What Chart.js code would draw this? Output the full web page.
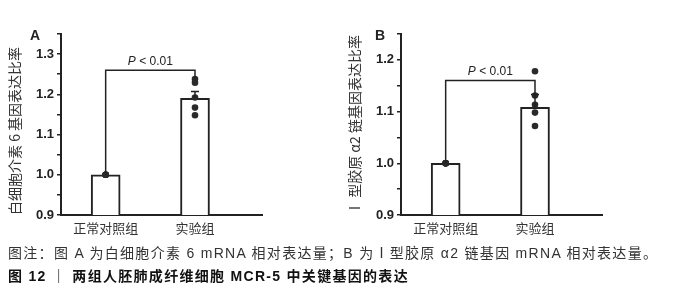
<!DOCTYPE html>
<html>
<head>
<meta charset="utf-8">
<script src="https://cdn.jsdelivr.net/npm/chart.js@4"></script>
<style>
  body { margin: 0; background: #fff; width: 679px; height: 300px; position: relative; overflow: hidden; }
  canvas { position: absolute; top: 0; }
  #cA { left: 0; }
  #cB { left: 340px; }
  .cap { position: absolute; left: 8px; font-size: 14px; letter-spacing: 1.3px; color: #333; white-space: nowrap;
         font-family: "Liberation Sans", "Noto Sans CJK SC", sans-serif; }
</style>
</head>
<body>
<canvas id="cA" width="270" height="245"></canvas>
<canvas id="cB" width="270" height="245"></canvas>
<div class="cap" id="cap1" style="top:242px"></div>
<div class="cap" id="cap2" style="top:265px;font-weight:bold;color:#111"></div>
<script>
// categories
const categories = ["正常对照组", "实验组"];

// panel A : 白细胞介素 6
const meansA = [1.0, 1.19];
const errA = [0, 0.017];
const pointsA = [[1, 1, 1, 1, 1], [1.238, 1.229, 1.192, 1.167, 1.148]];
const rangeA = [0.9, 1.35];
const ticksA = [0.9, 1.0, 1.1, 1.2, 1.3];
const bracketA = [1.0, 1.26, 1.24]; // left end, top, right end

// panel B : I 型胶原 α2 链
const meansB = [1.0, 1.108];
const errB = [0, 0.025];
const pointsB = [[1, 1, 1, 1, 1], [1.178, 1.131, 1.113, 1.098, 1.072]];
const rangeB = [0.9, 1.25];
const ticksB = [0.9, 1.0, 1.1, 1.2];
const bracketB = [1.0, 1.16, 1.135];

const pText = ["P", " < 0.01"];
const caption1 = "图注：图 A 为白细胞介素 6 mRNA 相对表达量；B 为Ⅰ型胶原 α2 链基因 mRNA 相对表达量。";
const caption2 = "图 12 ｜ 两组人胚肺成纤维细胞 MCR-5 中关键基因的表达";

document.getElementById("cap1").textContent = caption1;
document.getElementById("cap2").textContent = caption2;

const ink = "#222";

// error bars, bracket, p value and panel letter
const annot = {
  id: "annot",
  afterDatasetsDraw(chart, args, o) {
    const ctx = chart.ctx;
    const xs = chart.scales.x, ys = chart.scales.y;
    ctx.save();
    ctx.strokeStyle = ink;
    ctx.lineWidth = 1.5;
    o.means.forEach((m, i) => {
      if (!o.errs[i]) return;
      const px = xs.getPixelForValue(i);
      const y0 = ys.getPixelForValue(m), y1 = ys.getPixelForValue(m + o.errs[i]);
      ctx.beginPath();
      ctx.moveTo(px, y0); ctx.lineTo(px, y1);
      ctx.moveTo(px - 4, y1); ctx.lineTo(px + 4, y1);
      ctx.stroke();
    });
    const xl = xs.getPixelForValue(0), xr = xs.getPixelForValue(1);
    const yTop = ys.getPixelForValue(o.bracket[1]);
    ctx.beginPath();
    ctx.moveTo(xl, ys.getPixelForValue(o.bracket[0]));
    ctx.lineTo(xl, yTop);
    ctx.lineTo(xr, yTop);
    ctx.lineTo(xr, ys.getPixelForValue(o.bracket[2]));
    ctx.stroke();

    ctx.fillStyle = ink;
    ctx.textBaseline = "bottom";
    ctx.font = "italic 12px 'Liberation Sans'";
    const w1 = ctx.measureText(pText[0]).width;
    ctx.font = "12px 'Liberation Sans'";
    const w2 = ctx.measureText(pText[1]).width;
    let tx = (xl + xr) / 2 - (w1 + w2) / 2;
    ctx.font = "italic 12px 'Liberation Sans'";
    ctx.fillText(pText[0], tx, yTop - 3);
    ctx.font = "12px 'Liberation Sans'";
    ctx.fillText(pText[1], tx + w1, yTop - 3);

    ctx.font = "bold 14px 'Liberation Sans'";
    ctx.textBaseline = "middle";
    ctx.textAlign = "center";
    ctx.fillText(o.label, o.labelX, chart.chartArea.top + 2);
    ctx.restore();
  }
};

function makeChart(id, label, labelX, means, errs, points, range, ticks, bracket, yTitle) {
  const dots = [];
  points.forEach((arr, i) => arr.forEach(v => dots.push({ x: i, y: v })));
  return new Chart(document.getElementById(id), {
    type: "bar",
    data: {
      datasets: [
        {
          type: "scatter",
          data: dots,
          pointRadius: 3.3,
          backgroundColor: "#2a2a2a",
          borderColor: "#2a2a2a",
          borderWidth: 0,
          order: 0,
        },
        {
          type: "bar",
          data: means.map((m, i) => ({ x: i, y: m })),
          backgroundColor: "#fff",
          borderColor: ink,
          borderWidth: 2,
          barThickness: 29,
          order: 1,
        },
      ],
    },
    options: {
      responsive: false,
      animation: false,
      devicePixelRatio: 1,
      layout: { padding: { top: 34, right: 8, left: 0, bottom: 0 } },
      plugins: {
        legend: { display: false },
        tooltip: { enabled: false },
        annot: { means: means, errs: errs, bracket: bracket, label: label, labelX: labelX },
      },
      scales: {
        x: {
          type: "linear",
          min: -0.5,
          max: 1.75,
          offset: false,
          afterBuildTicks: s => { s.ticks = categories.map((c, i) => ({ value: i })); },
          ticks: {
            callback: v => categories[v],
            font: { family: "'Noto Sans CJK SC'", size: 13 },
            color: "#333",
            padding: 5,
          },
          grid: { drawOnChartArea: false, drawTicks: false, offset: false },
          border: { display: true, color: ink, width: 2 },
          afterFit: s => { s.height = 30; },
        },
        y: {
          min: range[0],
          max: range[1],
          ticks: {
            stepSize: 0.05,
            callback: v => ticks.some(t => Math.abs(t - v) < 1e-6) ? v.toFixed(1) : "",
            font: { family: "'Liberation Sans'", size: 13, weight: "bold" },
            color: ink,
            padding: 3,
          },
          grid: { drawOnChartArea: false, drawTicks: true, tickLength: 4, color: ink, lineWidth: 1.5 },
          border: { display: true, color: ink, width: 2 },
          title: {
            display: true,
            text: yTitle,
            align: "start",
            font: { family: "'Noto Sans CJK SC'", size: 14 },
            color: "#333",
            padding: { top: 6, bottom: 0 },
          },
          afterFit: s => { s.width = 61; },
        },
      },
    },
    plugins: [annot],
  });
}

makeChart("cA", "A", 35, meansA, errA, pointsA, rangeA, ticksA, bracketA, "白细胞介素 6 基因表达比率");
makeChart("cB", "B", 40, meansB, errB, pointsB, rangeB, ticksB, bracketB, "Ⅰ 型胶原 α2 链基因表达比率");
</script>
</body>
</html>
